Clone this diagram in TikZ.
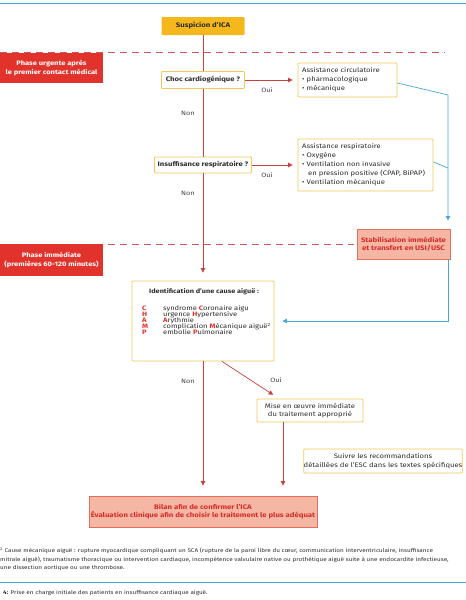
\documentclass[tikz,border=0pt]{standalone}
\usepackage{fontspec}
\setmainfont[FakeStretch=1.18]{Fira Sans}
\usetikzlibrary{arrows.meta}
\definecolor{orangey}{HTML}{F5B81C}
\definecolor{yborder}{HTML}{F0C95A}
\definecolor{phred}{HTML}{E2322C}
\definecolor{dashred}{HTML}{CC5A5A}
\definecolor{lred}{HTML}{C8413F}
\definecolor{tealc}{HTML}{45A9D3}
\definecolor{pinkf}{HTML}{F6B6A4}
\definecolor{pinkb}{HTML}{E0705E}
\definecolor{dred}{HTML}{D42E2A}
\definecolor{txt}{HTML}{2E2E2E}
\definecolor{lbl}{HTML}{444444}
\begin{document}
\begin{tikzpicture}[x=1pt,y=-1pt,
  basebox/.style={inner sep=0pt, line width=0.8pt, rounded corners=1pt, align=center, font=\fontsize{6.6}{8.5}\selectfont, text=txt},
  ybox/.style={basebox, draw=yborder, fill=white},
  obox/.style={basebox, fill=orangey, font=\fontsize{6.6}{8.5}\selectfont\bfseries},
  phasebox/.style={inner sep=0pt, fill=phred, text=white, align=center, font=\fontsize{6.4}{8.5}\selectfont\bfseries},
  pinkbox/.style={inner sep=0pt, line width=0.8pt, draw=pinkb, fill=pinkf, text=dred, align=center, font=\fontsize{6.6}{8.3}\selectfont\bfseries},
  redline/.style={draw=lred, line width=0.7pt},
  redarrow/.style={redline, -{Triangle[length=4.5pt,width=4.5pt]}},
  tealline/.style={draw=tealc, line width=0.7pt},
  tealarrow/.style={tealline, -{Triangle[length=4.5pt,width=4.5pt]}},
  dashline/.style={draw=dashred, line width=0.7pt, dash pattern=on 7pt off 5pt},
  lab/.style={inner sep=0pt, text=lbl, font=\fontsize{6.2}{7}\selectfont},
  ltext/.style={inner sep=0pt, anchor=west, text=txt, align=left, font=\fontsize{6.5}{9}\selectfont},
  foot/.style={inner sep=0pt, anchor=west, text=txt, font=\fontsize{5.38}{6.5}\selectfont}
]
\useasboundingbox (0,0) rectangle (466,600);
% top rule
\coordinate (tl) at (0,3); \coordinate (tr) at (466,3);
\draw[tealline, line width=0.6pt] (tl) -- (tr);

% dashed phase lines
\coordinate (d1a) at (0,52); \coordinate (d1b) at (445,52);
\draw[dashline] (d1a) -- (d1b);
\coordinate (d2a) at (0,244);

% phase boxes
\node[phasebox, minimum width=103pt, minimum height=30pt] (ph1) at (51.5,68) {Phase urgente après\\le premier contact médical};

% main nodes
\node[obox, minimum width=83pt, minimum height=18pt] (susp) at (203,26) {Suspicion d'ICA};
\node[ybox, minimum width=83pt, minimum height=17pt, font=\fontsize{6.5}{8.5}\selectfont\bfseries] (choc) at (203,80) {Choc cardiogénique ?};
\node[ybox, minimum width=99pt, minimum height=34pt] (circ) at (347.5,80) {};
\node[ltext] (circt) at (302,80) {Assistance circulatoire\\• pharmacologique\\• mécanique};

\node[ybox, minimum width=97pt, minimum height=16pt, font=\fontsize{6.5}{8.5}\selectfont\bfseries] (insuff) at (203,165) {Insuffisance respiratoire ?};
\node[ybox, minimum width=135pt, minimum height=52pt] (resp) at (365.5,165) {};
\node[ltext] (respt) at (302,165) {Assistance respiratoire\\• Oxygène\\• Ventilation non invasive\\\hspace*{6pt}en pression positive (CPAP, BiPAP)\\• Ventilation mécanique};

\node[pinkbox, minimum width=93pt, minimum height=30pt] (stab) at (403.5,244) {Stabilisation immédiate\\et transfert en USI/USC};
\coordinate (d2b) at (stab.west);
\draw[dashline] (d2a) -- ([xshift=-3pt]d2b);
\node[phasebox, minimum width=103pt, minimum height=32pt] (ph2) at (51.5,260) {Phase immédiate\\(premières 60-120 minutes)};

% identification box
\node[ybox, minimum width=142pt, minimum height=80pt] (ident) at (203,321) {};
\node[inner sep=0pt, text=txt, font=\fontsize{6.2}{8}\selectfont\bfseries] (identt) at (204,292) {Identification d'une cause aiguë :};
\node[inner sep=0pt, anchor=north west, text=txt, font=\fontsize{6.4}{7.4}\selectfont] (identl) at (142,305.5) {%
\begin{tabular}{@{}l@{\hspace{15pt}}l@{}}
\textcolor{phred}{\bfseries C} & syndrome \textcolor{phred}{\bfseries C}oronaire aigu\\[-1.6pt]
\textcolor{phred}{\bfseries H} & urgence \textcolor{phred}{\bfseries H}ypertensive\\[-1.6pt]
\textcolor{phred}{\bfseries A} & \textcolor{phred}{\bfseries A}rythmie\\[-1.6pt]
\textcolor{phred}{\bfseries M} & complication \textcolor{phred}{\bfseries M}écanique aiguë\textsuperscript{2}\\[-1.6pt]
\textcolor{phred}{\bfseries P} & embolie \textcolor{phred}{\bfseries P}ulmonaire
\end{tabular}};

\node[ybox, minimum width=106pt, minimum height=23pt, font=\fontsize{6.5}{8.5}\selectfont] (mise) at (310,410.5) {Mise en œuvre immédiate\\du traitement approprié};
\node[ybox, minimum width=158pt, minimum height=24pt, font=\fontsize{6.5}{8.5}\selectfont] (suivre) at (383,461) {Suivre les recommandations\\détaillées de l'ESC dans les textes spécifiques};
\node[pinkbox, minimum width=228pt, minimum height=31pt] (bilan) at (203,511.5) {Bilan afin de confirmer l'ICA\\Évaluation clinique afin de choisir le traitement le plus adéquat};

% connectors (red)
\draw[redline] (susp.south) -- (choc.north);
\draw[redline] (choc.south) -- (insuff.north);
\draw[redarrow, shorten >=8pt] (insuff.south) -- (ident.north);
\draw[redarrow, shorten >=5pt] (choc.east) -- (circ.west);
\draw[redarrow, shorten >=5pt] (insuff.east) -- (resp.west);
\draw[redarrow, shorten >=10pt] (ident.south) -- (bilan.north);
\draw[redarrow, shorten >=7pt] ([xshift=19pt]ident.south) -- ([xshift=-31pt]mise.north);
\coordinate (mb) at ([xshift=-27pt]mise.south);
\draw[redarrow, shorten >=10pt] (mb) -- (mb |- bilan.north);

% connectors (teal)
\coordinate (tj1) at (448,95);
\coordinate (tj2) at (448,168);
\draw[tealarrow, shorten >=8pt] ([yshift=-3pt]circ.east) -- (tj1) -- (tj1 |- stab.north);
\draw[tealline] ([yshift=3pt]resp.east) -- (tj2);
\draw[tealarrow, shorten >=8pt] (tj1 |- stab.south) |- (ident.east);

% labels
\node[lab] (oui1) at (267,90) {Oui};
\node[lab] (non1) at (188,113) {Non};
\node[lab] (oui2) at (267,175) {Oui};
\node[lab] (non2) at (188,193) {Non};
\node[lab] (non3) at (188,381) {Non};
\node[lab] (oui3) at (276,380) {Oui};

% footnote
\node[foot] (f1) at (0,551) {\textsuperscript{2} Cause mécanique aiguë : rupture myocardique compliquant un SCA (rupture de la paroi libre du cœur, communication interventriculaire, insuffisance};
\node[foot] (f2) at (0,559.5) {mitrale aiguë), traumatisme thoracique ou intervention cardiaque, incompétence valvulaire native ou prothétique aiguë suite à une endocardite infectieuse,};
\node[foot] (f3) at (0,568) {une dissection aortique ou une thrombose.};
\coordinate (bl) at (0,582); \coordinate (br) at (466,582);
\draw[tealline, line width=0.6pt] (bl) -- (br);
\node[foot] (cap) at (3,593) {\textbf{4:} Prise en charge initiale des patients en insuffisance cardiaque aiguë.};
\end{tikzpicture}
\end{document}
